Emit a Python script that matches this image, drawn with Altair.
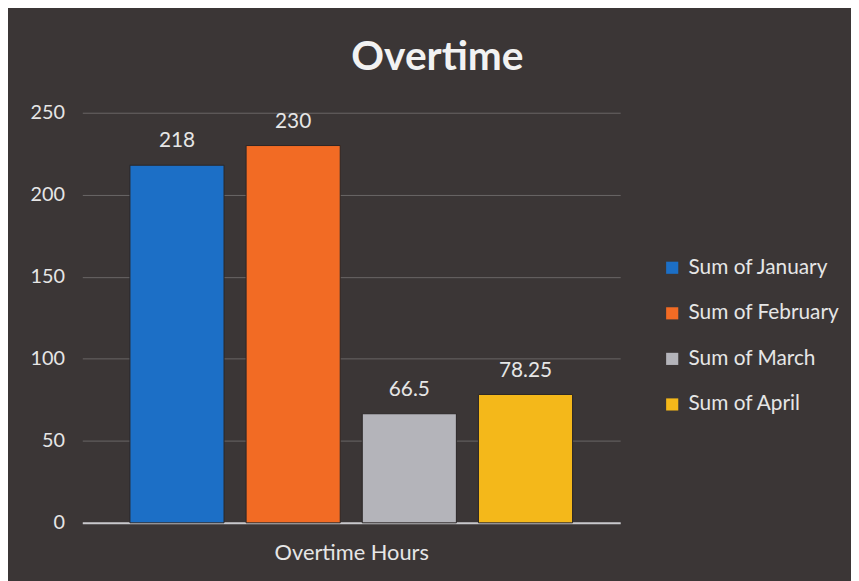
import altair as alt
import pandas as pd

series = ["Sum of January", "Sum of February", "Sum of March", "Sum of April"]
values = [218, 230, 66.5, 78.25]
colors = ["#1c6fc6", "#f26b24", "#b4b4ba", "#f4b81a"]
y_ticks = [0, 50, 100, 150, 200, 250]

df = pd.DataFrame({
    "series": series,
    "value": values,
    "label": [f"{v:g}" for v in values],
})

FONT = "Lato"
TXT = "#e6e6e6"

base = alt.Chart(df).encode(
    x=alt.X(
        "series:N",
        sort=series,
        scale=alt.Scale(paddingInner=0.19, paddingOuter=0.41),
        axis=alt.Axis(
            title="Overtime Hours",
            labels=False,
            ticks=False,
            domain=True,
            domainColor="#c8c8cc",
            domainWidth=2,
            titleColor=TXT,
            titleFont=FONT,
            titleFontSize=22,
            titleFontWeight="normal",
            titlePadding=20,
        ),
    ),
    y=alt.Y(
        "value:Q",
        scale=alt.Scale(domain=[0, 250]),
        axis=alt.Axis(
            title=None,
            values=y_ticks,
            ticks=False,
            domain=False,
            grid=True,
            gridColor="#6a6666",
            gridWidth=1,
            labelColor=TXT,
            labelFont=FONT,
            labelFontSize=20,
            labelPadding=18,
        ),
    ),
)

bars = base.mark_bar(stroke="#2a2626", strokeWidth=1).encode(
    color=alt.Color(
        "series:N",
        sort=series,
        scale=alt.Scale(domain=series, range=colors),
        legend=alt.Legend(
            title=None,
            orient="none",
            legendX=585,
            legendY=146,
            symbolType="square",
            symbolSize=150,
            symbolStrokeWidth=0,
            labelColor=TXT,
            labelFont=FONT,
            labelFontSize=21,
            rowPadding=24,
            labelOffset=6,
        ),
    )
)

labels = base.mark_text(
    baseline="bottom", dy=-14, font=FONT, fontSize=21, color=TXT
).encode(text="label:N")

chart = (
    (bars + labels)
    .properties(
        width=543,
        height=414,
        background="#3b3636",
        padding={"left": 75, "top": 103, "right": 233, "bottom": 56},
        autosize=alt.AutoSizeParams(type="none"),
        title=alt.TitleParams(
            "Overtime",
            font=FONT,
            fontSize=41,
            fontWeight="bold",
            color="#f2f2f2",
            anchor="middle",
            dx=87,
            offset=24,
        ),
    )
    .configure_view(stroke=None)
)

chart.save("out.html", embed_options={"renderer": "svg", "actions": False})
